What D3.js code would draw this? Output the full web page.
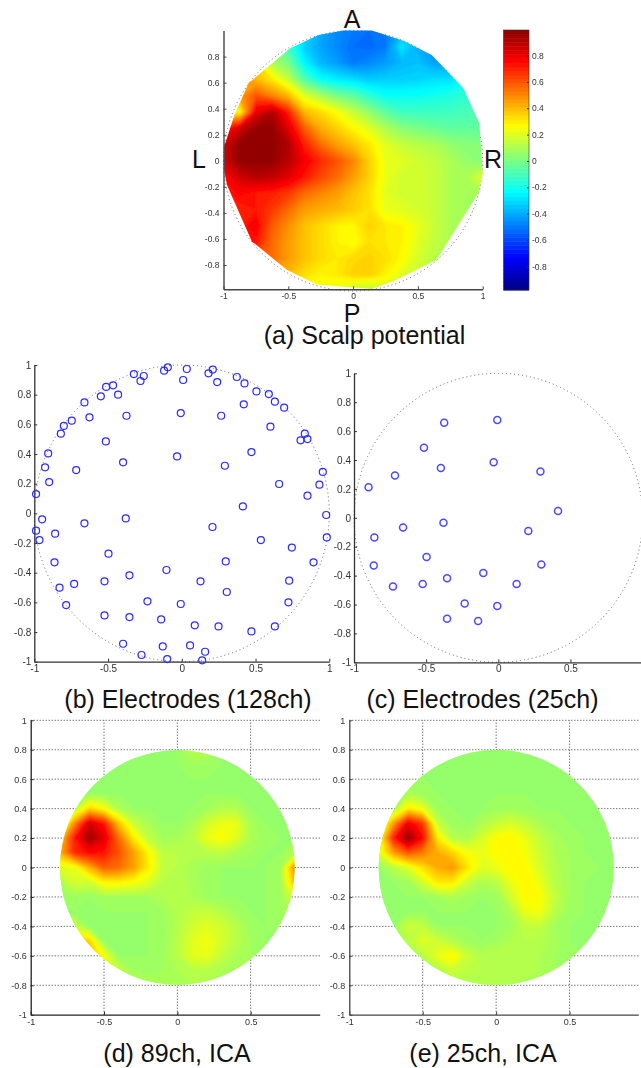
<!DOCTYPE html>
<html>
<head>
<meta charset="utf-8">
<script src="https://cdn.jsdelivr.net/npm/d3@7"></script>
<style>
body { margin: 0; background: #fff; }
svg { display: block; }
text { font-family: "Liberation Sans", Arial, sans-serif; }
</style>
</head>
<body>
<div id="fig"></div>
<script>
// scalp potential, sampled at x,y = -1..1 step .125, top row is y = 1
const scalpGrid = [
  [.1,.1,.1,0,-.1,-.3,-.4,-.47,-.5,-.52,-.5,-.4,-.42,-.45,-.45,-.45,-.45],
  [.2,.2,.15,.05,-.12,-.33,-.42,-.47,-.52,-.53,-.5,-.28,-.4,-.45,-.45,-.45,-.45],
  [.4,.4,.35,.1,0,-.25,-.38,-.43,-.5,-.47,-.43,-.38,-.36,-.42,-.42,-.4,-.35],
  [.45,.45,.4,.3,.15,-.08,-.22,-.27,-.3,-.34,-.33,-.33,-.32,-.3,-.3,-.22,-.2],
  [.45,.45,.6,.5,.4,.2,.1,0,-.05,-.15,-.22,-.22,-.22,-.2,-.18,-.15,-.12],
  [.3,.25,.8,.92,.7,.4,.33,.25,.15,.05,-.05,-.12,-.12,-.12,-.12,-.1,-.08],
  [.7,.85,.97,.97,.82,.58,.42,.35,.27,.2,.1,.03,0,-.03,-.05,-.05,-.05],
  [.85,.97,.97,.97,.92,.7,.55,.45,.38,.3,.2,.15,.12,.1,.05,.03,.02],
  [.85,.97,.97,.97,.9,.78,.68,.6,.5,.35,.22,.2,.17,.14,.1,.05,.03],
  [.75,.85,.9,.88,.82,.72,.62,.55,.45,.35,.22,.17,.17,.15,.1,.1,.2],
  [.7,.75,.72,.7,.65,.55,.5,.45,.38,.32,.2,.17,.17,.15,.1,.08,.1],
  [.7,.7,.72,.65,.55,.45,.42,.4,.36,.32,.22,.2,.18,.15,.1,.08,.08],
  [.7,.7,.78,.58,.48,.38,.33,.28,.27,.35,.3,.28,.22,.15,.1,.08,.08],
  [.72,.72,.72,.55,.45,.38,.33,.28,.25,.32,.3,.28,.2,.14,.1,.1,.1],
  [.6,.6,.6,.55,.45,.38,.33,.3,.33,.35,.32,.27,.18,.12,.1,.1,.1],
  [.5,.5,.5,.45,.4,.32,.28,.3,.35,.35,.28,.2,.15,.12,.1,.1,.1],
  [.4,.4,.4,.4,.3,.25,.2,.2,.12,.1,.15,.15,.15,.12,.1,.1,.1]
];
// outline of the coloured area in (a)
const scalpHull = [
  [-.995,.11],[-.915,.353],[-.807,.596],[-.486,.864],[-.267,.967],[-.075,1],[.144,1],
  [.388,.923],[.607,.813],[.851,.558],[.974,.289],[1,-.095],[.967,-.248],[.645,-.76],
  [.311,-.926],[.144,-.985],[-.28,-.951],[-.512,-.836],[-.781,-.619],[-.974,-.184],[-.995,-.069]
];
// ICA maps, sampled at x,y = -.8..8 step .1, top row is y = .8
const ica89Grid = [
  [.06,.06,.06,.06,.06,.06,.06,.06,.06,.12,.12,.06,.06,.06,.06,.06,.06],
  [.06,.06,.06,.06,.06,.06,.06,.06,.06,.08,.07,.06,.06,.06,.06,.06,.06],
  [.06,.06,.06,.06,.06,.06,.06,.06,.06,.06,.06,.06,.06,.06,.06,.06,.06],
  [.06,.06,.06,.06,.06,.06,.06,.06,.06,.06,.06,.06,.06,.06,.06,.06,.06],
  [.06,.12,.35,.25,.1,.06,.06,.06,.06,.06,.08,.11,.11,.06,.06,.06,.06],
  [.06,.5,.85,.72,.38,.16,.09,.06,.06,.09,.17,.22,.22,.09,.06,.06,.06],
  [.35,.72,.95,.82,.55,.3,.14,.08,.09,.12,.22,.26,.2,.1,.07,.06,.06],
  [.42,.68,.75,.72,.6,.45,.28,.13,.12,.11,.12,.13,.1,.08,.06,.06,.12],
  [.2,.22,.42,.58,.55,.45,.3,.14,.12,.09,.07,.06,.06,.06,.06,.07,.5],
  [.1,.18,.16,.28,.28,.25,.2,.12,.12,.09,.07,.06,.06,.06,.06,.08,.4],
  [.06,.07,.06,.08,.08,.08,.08,.1,.12,.1,.07,.06,.06,.06,.06,.07,.2],
  [.06,.06,.06,.06,.06,.06,.06,.08,.11,.14,.15,.12,.08,.06,.06,.08,.1],
  [.15,.15,.06,.06,.06,.06,.06,.07,.11,.17,.2,.17,.12,.07,.06,.07,.07],
  [.4,.4,.35,.06,.06,.06,.06,.07,.12,.2,.24,.18,.12,.08,.06,.06,.06],
  [.4,.4,.4,.25,.06,.06,.06,.08,.12,.2,.22,.14,.1,.08,.06,.06,.06],
  [.2,.2,.2,.2,.15,.08,.07,.08,.1,.12,.12,.1,.09,.07,.06,.06,.06],
  [.1,.1,.1,.1,.1,.1,.1,.1,.1,.1,.1,.09,.08,.07,.06,.06,.06]
];
const ica25Grid = [
  [.06,.06,.06,.06,.06,.06,.06,.06,.06,.06,.06,.06,.06,.06,.06,.06,.06],
  [.06,.06,.06,.06,.06,.06,.06,.06,.06,.06,.06,.06,.06,.06,.06,.06,.06],
  [.06,.06,.06,.06,.06,.06,.06,.06,.06,.06,.06,.06,.06,.06,.06,.06,.06],
  [.06,.06,.1,.07,.06,.06,.06,.06,.06,.06,.06,.06,.06,.06,.06,.06,.06],
  [.06,.08,.3,.22,.07,.06,.06,.06,.07,.08,.07,.06,.06,.06,.06,.06,.06],
  [.1,.45,.8,.65,.15,.07,.06,.1,.15,.18,.14,.09,.07,.06,.06,.06,.06],
  [.2,.7,.97,.75,.3,.12,.1,.18,.26,.28,.22,.14,.09,.07,.06,.06,.06],
  [.2,.45,.6,.52,.42,.35,.25,.22,.26,.28,.24,.16,.1,.08,.06,.06,.06],
  [.06,.12,.2,.32,.42,.47,.32,.2,.22,.27,.27,.18,.11,.08,.07,.06,.06],
  [.06,.06,.07,.18,.3,.3,.16,.1,.12,.22,.28,.22,.12,.08,.06,.06,.06],
  [.06,.06,.06,.06,.08,.1,.08,.06,.07,.17,.27,.26,.14,.08,.06,.06,.06],
  [.06,.06,.06,.06,.06,.06,.06,.06,.06,.1,.22,.24,.12,.07,.06,.06,.06],
  [.06,.06,.16,.14,.06,.06,.06,.06,.06,.08,.14,.14,.08,.06,.06,.06,.06],
  [.06,.06,.12,.2,.16,.12,.07,.06,.08,.1,.12,.11,.09,.06,.06,.06,.06],
  [.07,.07,.08,.12,.22,.28,.16,.11,.12,.12,.12,.1,.08,.07,.06,.06,.06],
  [.09,.09,.09,.09,.1,.16,.13,.12,.12,.12,.11,.1,.08,.07,.07,.06,.06],
  [.09,.09,.09,.09,.09,.09,.1,.1,.1,.1,.09,.09,.08,.08,.07,.07,.06]
];
const electrodes128 = [
  [-.095,.984],[-.12,.962],[.034,.973],[.21,.969],[.181,.944],[-.325,.939],[-.258,.926],[-.28,.892],
  [.009,.899],[.24,.885],[.373,.919],[.425,.876],[-.466,.863],[-.513,.852],[-.549,.789],[-.432,.8],
  [.506,.822],[.59,.804],[.631,.753],[.694,.712],[.42,.735],[-.66,.748],[-.746,.625],[-.8,.589],
  [-.82,.537],[-.626,.647],[-.375,.658],[-.007,.676],[.267,.658],[.601,.584],[.834,.537],[.805,.492],
  [.852,.501],[-.515,.485],[-.906,.404],[-.398,.344],[-.032,.384],[.292,.321],[.472,.413],[-.927,.31],
  [-.716,.292],[-.899,.211],[-.988,.13],[.956,.279],[.933,.193],[.66,.198],[.852,.119],[.414,.047],
  [.979,-.011],[-.947,-.04],[-.66,-.067],[-.38,-.034],[-.988,-.117],[-.859,-.137],[-.965,-.18],[.208,-.092],
  [.536,-.18],[.983,-.162],[.746,-.231],[-.497,-.272],[-.863,-.33],[.893,-.33],[.298,-.324],[-.104,-.382],
  [-.355,-.418],[-.829,-.501],[-.73,-.476],[-.524,-.458],[.127,-.458],[.728,-.454],[.305,-.53],[-.784,-.618],
  [-.233,-.593],[-.007,-.611],[.723,-.6],[-.524,-.688],[-.355,-.699],[-.14,-.715],[.088,-.755],[.249,-.762],
  [.631,-.762],[.472,-.796],[-.398,-.879],[-.129,-.897],[.056,-.89],[.158,-.933],[-.273,-.955],[-.099,-.982],
  [.138,-.991]
];
const electrodes25 = [
  [-.899,.211],[-.716,.292],[-.515,.485],[-.398,.344],[-.375,.658],[-.007,.676],[-.032,.384],[.292,.321],
  [.414,.047],[.208,-.092],[.298,-.324],[.127,-.458],[-.007,-.611],[-.104,-.382],[-.14,-.715],[-.233,-.593],
  [-.355,-.699],[-.355,-.418],[-.524,-.458],[-.497,-.272],[-.73,-.476],[-.863,-.33],[-.859,-.137],[-.66,-.067],
  [-.38,-.034]
];
const xTicks = [-1, -.5, 0, .5, 1];
const yTicksA = [-.8, -.6, -.4, -.2, 0, .2, .4, .6, .8];
const yTicksB = [-1, -.8, -.6, -.4, -.2, 0, .2, .4, .6, .8, 1];
const barTicks = [-.8, -.6, -.4, -.2, 0, .2, .4, .6, .8];
const captions = [
  ["(a) Scalp potential", 364.5, 344],
  ["(b) Electrodes (128ch)", 188, 708],
  ["(c) Electrodes (25ch)", 482.5, 708],
  ["(d) 89ch, ICA", 177, 1062],
  ["(e) 25ch, ICA", 483, 1062]
];
const sideLabels = [["A", 352, 28], ["L", 199, 168], ["R", 493, 168], ["P", 352, 322]];

const jet = d3.scaleLinear()
  .domain([-1, -.75, -.25, .25, .75, 1])
  .range(["#00007f", "#0000ff", "#00ffff", "#ffff00", "#ff0000", "#7f0000"])
  .clamp(true);

const svg = d3.select("#fig").append("svg").attr("width", 641).attr("height", 1068);
const defs = svg.append("defs");
defs.append("filter").attr("id", "soft").attr("x", "-5%").attr("y", "-5%").attr("width", "110%").attr("height", "110%")
  .append("feGaussianBlur").attr("stdDeviation", 1.2);
defs.append("filter").attr("id", "soft2")
  .append("feGaussianBlur").attr("stdDeviation", 0.3);

function drawHeat(g, grid, xMin, xMax, yMax, yMin, x, y) {
  const n = grid[0].length, m = grid.length;
  const gx = d3.scaleLinear().domain([.5, n - .5]).range([x(xMin), x(xMax)]);
  const gy = d3.scaleLinear().domain([.5, m - .5]).range([y(yMax), y(yMin)]);
  const proj = d3.geoTransform({ point(a, b) { this.stream.point(gx(a), gy(b)); } });
  const path = d3.geoPath(proj);
  const levels = d3.range(-1, 1, .02);
  const contours = d3.contours().size([n, m]).thresholds(levels)(grid.flat());
  g.selectAll("path").data(contours).join("path")
    .attr("d", path)
    .attr("fill", d => jet(d.value))
    .attr("shape-rendering", "crispEdges");
}

function drawAxes(g, x, y, xt, yt, o) {
  const xAxis = d3.axisBottom(x).tickValues(xt).tickSize(-o.tick).tickSizeOuter(0).tickPadding(o.pad).tickFormat(String);
  const yAxis = d3.axisLeft(y).tickValues(yt).tickSize(-o.tick).tickSizeOuter(0).tickPadding(o.pad).tickFormat(String);
  const gx = g.append("g").attr("transform", `translate(0,${y.range()[0]})`).call(xAxis);
  const gy = g.append("g").attr("transform", `translate(${x.range()[0]},0)`).call(yAxis);
  for (const a of [gx, gy]) {
    a.selectAll("path,line").attr("stroke", o.color).attr("stroke-width", o.sw);
    a.selectAll("text").attr("fill", "#333").style("font-size", o.font + "px").attr("filter", "url(#soft2)");
    a.select(".domain").attr("stroke-width", o.domain);
  }
}

function dottedCircle(g, x, y) {
  g.append("ellipse")
    .attr("cx", x(0)).attr("cy", y(0))
    .attr("rx", x(1) - x(0)).attr("ry", y(0) - y(1))
    .attr("fill", "none").attr("stroke", "#555").attr("stroke-width", .9)
    .attr("stroke-dasharray", "1 3");
}

// (a)
{
  const x = d3.scaleLinear().domain([-1, 1]).range([223.5, 482.7]);
  const y = d3.scaleLinear().domain([-.987, 1]).range([289.3, 30.6]);
  const g = svg.append("g");
  dottedCircle(g, x, y);
  defs.append("clipPath").attr("id", "clipA").append("path")
    .attr("d", d3.line().x(d => x(d[0])).y(d => y(d[1])).curve(d3.curveLinearClosed)(scalpHull));
  const heat = g.append("g").attr("clip-path", "url(#clipA)").append("g").attr("filter", "url(#soft)");
  drawHeat(heat, scalpGrid, -1, 1, 1, -1, x, y);
  drawAxes(g, x, y, xTicks, yTicksA, { tick: 3, pad: 4, color: "#444", sw: 1, domain: 1.4, font: 8.5 });

  // colour bar
  const barY = d3.scaleLinear().domain([-.98, .994]).range([290, 30]);
  const bands = d3.range(64).map(i => -.98 + i * (1.974 / 64));
  const bar = svg.append("g");
  bar.selectAll("rect").data(bands).join("rect")
    .attr("x", 503.5).attr("width", 25.5)
    .attr("y", d => barY(d + 1.974 / 64)).attr("height", 260 / 64 + .5)
    .attr("fill", d => jet(d));
  bar.append("rect").attr("x", 503.5).attr("y", 30).attr("width", 25.5).attr("height", 260)
    .attr("fill", "none").attr("stroke", "#333").attr("stroke-width", .6);
  const barAxis = d3.axisRight(barY).tickValues(barTicks).tickSize(-2).tickSizeOuter(0).tickPadding(3).tickFormat(String);
  const ba = bar.append("g").attr("transform", "translate(529,0)").call(barAxis);
  ba.select(".domain").remove();
  ba.selectAll("line").attr("stroke", "#333");
  ba.selectAll("text").attr("fill", "#333").style("font-size", "8.5px").attr("filter", "url(#soft2)");
}

// (b), (c)
function electrodePanel(points, xr, yr, sw, color) {
  const x = d3.scaleLinear().domain([-1, 1]).range(xr);
  const y = d3.scaleLinear().domain([-1, 1]).range(yr);
  const g = svg.append("g");
  dottedCircle(g, x, y);
  drawAxes(g, x, y, xTicks, yTicksB, { tick: 3, pad: 3, color: "#333", sw: 1, domain: 1.3, font: 10 });
  g.append("g").attr("filter", "url(#soft2)").selectAll("circle").data(points).join("circle")
    .attr("cx", d => x(d[0])).attr("cy", d => y(d[1])).attr("r", 3.5)
    .attr("fill", "none").attr("stroke", color).attr("stroke-width", sw);
}
electrodePanel(electrodes128, [34.3, 329.3], [661.7, 365], 1.2, "#2a2aff");
electrodePanel(electrodes25, [354, 642.6], [662.3, 373.3], 1.5, "#4a4aff");

// (d), (e)
function icaPanel(id, grid, xr, color) {
  const x = d3.scaleLinear().domain([-1, 1]).range(xr);
  const y = d3.scaleLinear().domain([-1, 1]).range([1014.7, 720.3]);
  const g = svg.append("g");
  const right = xr[0] + 289.5;
  g.append("g").selectAll("line").data(yTicksB.slice(1)).join("line")
    .attr("x1", x(-1)).attr("x2", right).attr("y1", d => y(d)).attr("y2", d => y(d))
    .attr("stroke", "#222").attr("stroke-width", .9).attr("stroke-dasharray", "1 2");
  g.append("g").selectAll("line").data(xTicks.slice(1, 4)).join("line")
    .attr("y1", y(-1)).attr("y2", y(1)).attr("x1", d => x(d)).attr("x2", d => x(d))
    .attr("stroke", "#222").attr("stroke-width", .9).attr("stroke-dasharray", "1 2");
  defs.append("clipPath").attr("id", id).append("circle")
    .attr("cx", x(0)).attr("cy", y(0)).attr("r", x(.8) - x(0));
  const heat = g.append("g").attr("clip-path", `url(#${id})`);
  heat.append("rect").attr("x", x(-1)).attr("y", y(1)).attr("width", 300).attr("height", 300).attr("fill", jet(.06));
  const inner = heat.append("g").attr("filter", "url(#soft)");
  drawHeat(inner, grid, -.8, .8, .8, -.8, x, y);
  defs.append("clipPath").attr("id", id + "ax").append("rect")
    .attr("x", 0).attr("y", 700).attr("width", right).attr("height", 368);
  const ax = g.append("g").attr("clip-path", `url(#${id}ax)`);
  drawAxes(ax, x, y, xTicks, yTicksB, { tick: 3, pad: 4, color: color, sw: 1, domain: 1.3, font: 9 });
}
icaPanel("clipD", ica89Grid, [30.7, 324], "#222");
icaPanel("clipE", ica25Grid, [349.3, 643], "#444");

// labels
svg.append("g").selectAll("text").data(captions).join("text")
  .attr("x", d => d[1]).attr("y", d => d[2]).attr("text-anchor", "middle")
  .style("font-size", "25px").attr("fill", "#111").text(d => d[0]);
svg.append("g").selectAll("text").data(sideLabels).join("text")
  .attr("x", d => d[1]).attr("y", d => d[2]).attr("text-anchor", "middle")
  .style("font-size", "25px").attr("fill", "#111").text(d => d[0]);
</script>
</body>
</html>
